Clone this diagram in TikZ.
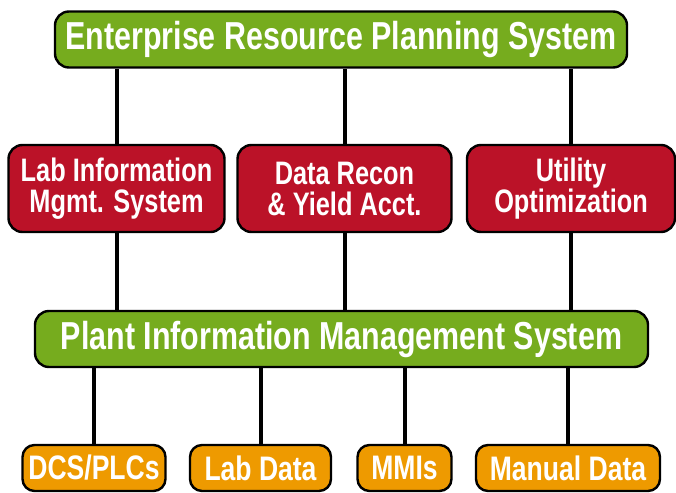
\documentclass[tikz,border=0pt]{standalone}
\usepackage{fontspec}
\setmainfont{Liberation Sans}[FakeStretch=0.78]
\usepackage{tikz}

\definecolor{erpgreen}{HTML}{76AC1E}
\definecolor{apred}{HTML}{BB1228}
\definecolor{srcorange}{HTML}{EE9A00}

\tikzset{
  box/.style={draw=black, line width=2.4pt, rounded corners=14pt, text=white,
    font=\bfseries, align=center, inner sep=0pt},
  sysbox/.style={box, fill=erpgreen, minimum height=56pt, font=\bfseries\fontsize{39}{42}\selectfont},
  appbox/.style={box, fill=apred, minimum height=87pt, font=\bfseries\fontsize{32.5}{31}\selectfont},
  srcbox/.style={box, fill=srcorange, minimum height=46pt, rounded corners=12pt, font=\bfseries\fontsize{34}{36}\selectfont},
  link/.style={line width=4pt}
}

\begin{document}
\begin{tikzpicture}[x=1pt,y=1pt]
        \useasboundingbox (0,0) rectangle (676,-492);
        % top level
        \node[sysbox, minimum width=572pt] (erp) at (341,-39.5) {Enterprise Resource Planning System};
        % applications
        \node[appbox, minimum width=216pt] (lims) at (116.5,-188.5) {Lab Information\\Mgmt. System};
        \node[appbox, minimum width=214pt] (recon) at (344.5,-188.5) {Data Recon\\\& Yield Acct.};
        \node[appbox, minimum width=208pt] (util) at (571,-188.5) {Utility\\Optimization};
        % plant historian
        \node[sysbox, minimum width=613pt] (pims) at (341.5,-339) {Plant Information Management System};
        % data sources
        \node[srcbox, minimum width=143pt] (dcs) at (94,-468) {DCS/PLCs};
        \node[srcbox, minimum width=141pt] (lab) at (260.5,-468) {Lab Data};
        \node[srcbox, minimum width=94pt] (mmi) at (404.5,-468) {MMIs};
        \node[srcbox, minimum width=184pt] (manual) at (568,-468) {Manual Data};
        % connectors
        \foreach \n in {lims,recon,util} {
            \draw[link] (\n.north) -- (\n.north |- erp.south); % up to ERP
            \draw[link] (\n.south) -- (\n.south |- pims.north); % down to PIMS
        }
        \foreach \n in {dcs,lab,mmi,manual}
            \draw[link] (\n.north) -- (\n.north |- pims.south);
    \end{tikzpicture}
\end{document}
